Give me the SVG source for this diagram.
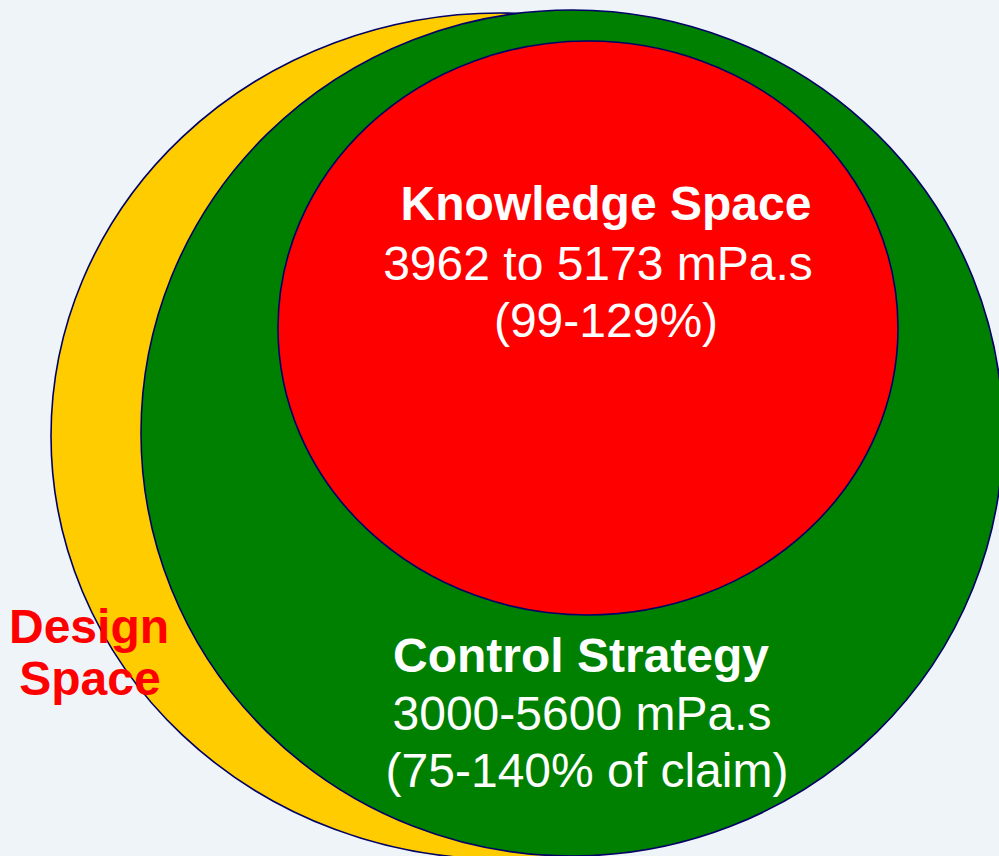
<svg xmlns="http://www.w3.org/2000/svg" width="999" height="856" viewBox="0 0 999 856">
  <style>
    .ring { stroke: #000066; stroke-width: 1.6; }
    .t { font-family: "Liberation Sans", Arial, sans-serif; text-anchor: middle; font-size: 48px; }
    .b { font-weight: bold; }
    .w { fill: #ffffff; }
    .r { fill: #ff0000; }
  </style>
  <rect width="999" height="856" fill="#eff4f9"/>
  <g id="design-space">
    <ellipse class="ring" cx="500" cy="436" rx="449" ry="423" fill="#ffcc00"/>
  </g>
  <g id="control-strategy">
    <ellipse class="ring" cx="572" cy="433" rx="431" ry="423" fill="#008000"/>
    <text class="t b w" x="581" y="672">Control Strategy</text>
    <text class="t w" x="582" y="730">3000-5600 mPa.s</text>
    <text class="t w" x="587" y="787">(75-140% of claim)</text>
  </g>
  <g id="knowledge-space">
    <ellipse class="ring" cx="588" cy="328" rx="310" ry="287" fill="#ff0000"/>
    <text class="t b w" x="606" y="220">Knowledge Space</text>
    <text class="t w" x="598" y="280">3962 to 5173 mPa.s</text>
    <text class="t w" x="606" y="337">(99-129%)</text>
  </g>
  <g id="design-space-label">
    <text class="t b r" x="89" y="643">Design</text>
    <text class="t b r" x="90" y="695">Space</text>
  </g>
</svg>
